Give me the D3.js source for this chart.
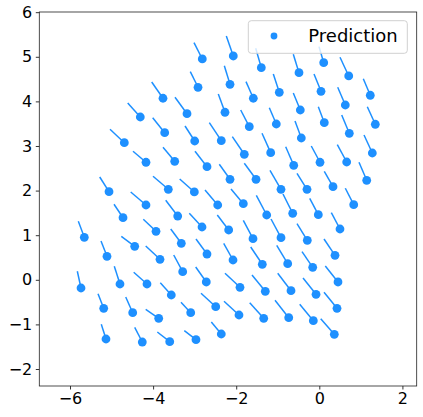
<!DOCTYPE html>
<html>
<head>
<meta charset="utf-8">
<script src="https://cdn.jsdelivr.net/npm/d3@7"></script>
<style>
  html, body { margin: 0; padding: 0; background: #fff; }
  svg { display: block; }
  text { font-family: "DejaVu Sans", sans-serif; }
</style>
</head>
<body>
<svg id="chart" width="423" height="417"></svg>
<script>
// Predicted positions
const predX = [-2.816,-2.070,-1.396,-0.489,0.106,0.708,1.227,-2.919,-2.149,-1.588,
  -0.963,0.041,0.626,-3.762,-3.184,-2.270,-0.457,-4.308,-1.685,-1.035,
  0.120,1.348,-3.721,0.722,-4.693,-2.999,-2.359,-0.433,-1.805,-1.170,
  1.276,-4.171,-3.480,-2.703,-0.616,0.017,0.659,-2.149,-1.523,1.141,
  -5.061,-3.634,-3.008,-0.922,-0.296,0.330,-4.171,-2.445,-1.829,0.828,
  -4.724,-3.408,-1.266,-0.640,-0.024,-2.823,-2.181,0.498,-3.930,-5.656,
  -3.321,-1.596,-0.922,-0.289,-5.110,-4.443,-2.703,0.378,-3.834,-2.077,
  -1.372,-0.761,-0.159,-3.288,-5.735,-4.797,-4.147,-3.562,-2.720,-1.909,
  -1.300,-0.681,-0.079,0.450,-5.189,-4.491,-3.865,-3.095,-2.493,-1.933,
  -1.338,-0.736,-0.144,0.426,-5.134,-4.260,-3.600,-2.968,-2.359,0.361];
const predY = [4.951,5.018,4.756,4.644,4.868,4.570,4.137,4.316,4.383,4.070,
  4.204,4.226,3.919,4.070,3.724,3.756,3.807,3.650,3.433,3.493,
  3.522,3.487,3.298,3.285,3.074,3.112,3.119,3.179,2.814,2.850,
  2.843,2.635,2.657,2.536,2.567,2.635,2.641,2.253,2.253,2.231,
  1.975,2.029,1.969,2.029,2.029,2.087,1.677,1.677,1.706,1.684,
  1.392,1.430,1.453,1.491,1.460,1.184,1.117,1.139,1.087,0.953,
  0.818,0.922,0.944,0.886,0.527,0.751,0.578,0.549,0.460,0.444,
  0.348,0.361,0.280,0.182,-0.184,-0.094,-0.094,-0.341,-0.049,-0.168,
  -0.258,-0.244,-0.325,-0.049,-0.639,-0.738,-0.863,-0.738,-0.603,-0.789,
  -0.863,-0.850,-0.917,-0.639,-1.327,-1.395,-1.388,-1.343,-1.215,-1.222];
// Start of each trail segment
const trailX = [-3.016,-2.238,-1.531,-0.626,-0.007,0.498,1.059,-3.105,-2.286,-1.764,
  -1.107,-0.128,0.443,-4.034,-3.473,-2.431,-0.626,-4.611,-1.892,-1.203,
  -0.024,1.155,-4.010,0.539,-5.037,-3.232,-2.647,-0.585,-2.094,-1.379,
  1.076,-4.484,-3.762,-2.992,-0.809,-0.193,0.433,-2.407,-1.805,0.955,
  -5.285,-4.002,-3.360,-1.187,-0.537,0.120,-4.539,-2.751,-2.125,0.626,
  -4.941,-3.697,-1.516,-0.874,-0.231,-3.129,-2.455,0.289,-4.236,-5.800,
  -3.576,-1.829,-1.162,-0.537,-5.254,-4.765,-2.968,0.113,-4.178,-2.301,
  -1.651,-1.025,-0.416,-3.504,-5.824,-4.934,-4.467,-3.827,-2.975,-2.270,
  -1.620,-1.001,-0.392,0.144,-5.326,-4.659,-4.178,-3.329,-2.847,-2.294,
  -1.675,-1.066,-0.472,0.113,-5.247,-4.443,-3.899,-3.249,-2.599,0.034];
const trailY = [5.316,5.466,5.191,5.056,5.227,4.989,4.509,4.666,4.800,4.442,
  4.614,4.614,4.316,4.435,4.092,4.166,4.188,3.964,3.807,3.859,
  3.881,3.881,3.635,3.695,3.374,3.448,3.522,3.561,3.209,3.285,
  3.247,2.881,2.971,2.881,2.984,3.000,3.029,2.590,2.612,2.635,
  2.305,2.321,2.260,2.455,2.388,2.433,1.969,2.013,2.036,2.052,
  1.693,1.783,1.895,1.924,1.827,1.491,1.453,1.504,1.357,1.312,
  1.139,1.334,1.363,1.258,0.870,0.975,0.915,0.915,0.758,0.818,
  0.735,0.774,0.630,0.556,0.191,0.303,0.168,-0.065,0.287,0.146,
  0.108,0.146,0.040,0.309,-0.312,-0.386,-0.661,-0.504,-0.303,-0.482,
  -0.513,-0.460,-0.549,-0.280,-0.998,-1.065,-1.170,-1.141,-0.946,-0.872];
const xTicks = [-6, -4, -2, 0, 2];
const yTicks = [-2, -1, 0, 1, 2, 3, 4, 5, 6];
const legendLabel = "Prediction";

const color = "#1e90ff";
const svg = d3.select("#chart");
const m = { left: 39.3, top: 12, right: 423 - 416.7, bottom: 417 - 386 };
const W = 423 - m.left - m.right, H = 417 - m.top - m.bottom;

const x = d3.scaleLinear().domain([-6.739, 2.344]).range([0, W]);
const y = d3.scaleLinear().domain([-2.381, 6.004]).range([H, 0]);

const g = svg.append("g").attr("transform", `translate(${m.left},${m.top})`);

svg.append("defs").append("clipPath").attr("id", "clip")
  .append("rect").attr("width", W).attr("height", H);

const fmt = d => (d < 0 ? "\u2212" + Math.abs(d) : String(d));

const xAxis = g.append("g").attr("transform", `translate(0,${H})`)
  .call(d3.axisBottom(x).tickValues(xTicks).tickFormat(fmt).tickSize(3.5).tickPadding(3.5));
const yAxis = g.append("g")
  .call(d3.axisLeft(y).tickValues(yTicks).tickFormat(fmt).tickSize(3.5).tickPadding(3.5));
[xAxis, yAxis].forEach(a => {
  a.select(".domain").remove();
  a.selectAll("line").attr("stroke", "#000").attr("stroke-width", 0.8);
  a.selectAll("text").attr("font-size", 16).attr("fill", "#000")
    .attr("font-family", "DejaVu Sans, sans-serif");
});

const plot = g.append("g").attr("clip-path", "url(#clip)");
const idx = d3.range(predX.length);

plot.selectAll("line.trail").data(idx).join("line")
  .attr("class", "trail")
  .attr("x1", i => x(trailX[i])).attr("y1", i => y(trailY[i]))
  .attr("x2", i => x(predX[i])).attr("y2", i => y(predY[i]))
  .attr("stroke", color).attr("stroke-width", 1.5);

plot.selectAll("circle.pred").data(idx).join("circle")
  .attr("class", "pred")
  .attr("cx", i => x(predX[i])).attr("cy", i => y(predY[i]))
  .attr("r", 4.4).attr("fill", color);

// frame
g.append("rect").attr("width", W).attr("height", H)
  .attr("fill", "none").attr("stroke", "#222").attr("stroke-width", 0.8);

// legend
const lg = svg.append("g").attr("transform", "translate(248.3,20.7)");
lg.append("rect").attr("width", 159).attr("height", 32.6).attr("rx", 3)
  .attr("fill", "#fff").attr("fill-opacity", 0.8)
  .attr("stroke", "#d0d0d0").attr("stroke-width", 1);
lg.append("circle").attr("cx", 25.7).attr("cy", 15.3).attr("r", 3.4).attr("fill", color);
lg.append("text").attr("x", 60).attr("y", 15.3).attr("dy", "0.36em")
  .attr("font-size", 18).attr("fill", "#000").text(legendLabel);
</script>
</body>
</html>
